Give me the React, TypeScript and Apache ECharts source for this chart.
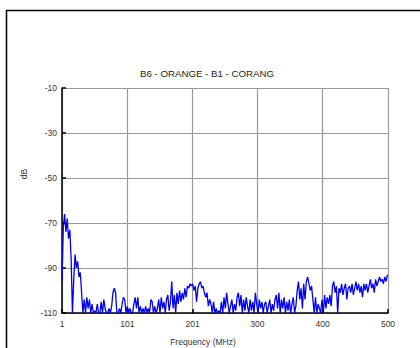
import React, { useEffect, useRef } from "react";
import * as echarts from "echarts";

const chartTitle = "B6 - ORANGE - B1 - CORANG";
const xAxisTitle = "Frequency (MHz)";
const yAxisTitle = "dB";

const xTickValues = [1, 101, 201, 300, 400, 500];
const yTickValues = [-110, -90, -70, -50, -30, -10];

const freqStart = 1;
const freqStep = 2;

const levelsDb = [
  -96, -72, -66, -74, -68, -77, -73, -86, -110, -95,
  -84, -90, -87, -94, -92, -101, -110, -104, -110, -103,
  -108, -104, -110, -106, -110, -109, -110, -106, -110, -110,
  -105, -110, -104, -108, -110, -110, -108, -110, -107, -101,
  -99, -101, -110, -110, -108, -110, -106, -103, -104, -110,
  -107, -110, -108, -110, -110, -106, -103, -108, -103, -110,
  -107, -110, -108, -110, -107, -110, -108, -110, -104, -105,
  -110, -107, -110, -108, -104, -110, -103, -108, -105, -110,
  -104, -102, -109, -105, -96, -108, -102, -110, -101, -106,
  -100, -105, -101, -104, -99, -103, -98, -99, -97, -98,
  -97, -100, -98, -105, -99, -97, -96, -99, -98, -101,
  -103, -101, -107, -104, -106, -110, -105, -110, -108, -110,
  -109, -110, -105, -110, -103, -108, -101, -106, -110, -107,
  -104, -110, -106, -109, -103, -101, -107, -102, -110, -104,
  -109, -103, -107, -110, -104, -109, -105, -110, -101, -106,
  -110, -104, -108, -105, -110, -106, -105, -110, -107, -104,
  -110, -106, -109, -104, -102, -108, -101, -110, -104, -108,
  -103, -110, -105, -109, -104, -110, -106, -103, -110, -107,
  -100, -96, -104, -99, -108, -97, -104, -96, -94, -97,
  -100, -98, -104, -110, -103, -110, -106, -108, -110, -104,
  -110, -102, -108, -103, -106, -102, -107, -98, -96, -101,
  -98, -110, -99, -101, -97, -102, -99, -97, -104, -99,
  -98, -101, -97, -102, -99, -96, -100, -97, -101, -98,
  -103, -97, -100, -97, -101, -98, -95, -99, -97, -101,
  -95, -98, -96, -94, -96, -95, -97, -94, -96, -93,
];

const seriesData = levelsDb.map((v, i) => [freqStart + i * freqStep, v]);

const font = "'Liberation Sans', Arial, sans-serif";

export default function App() {
  const ref = useRef<HTMLDivElement>(null);
  useEffect(() => {
    if (!ref.current) return;
    const chart = echarts.init(ref.current, null, { renderer: "svg" });
    chart.setOption({
      animation: false,
      backgroundColor: "#ffffff",
      title: {
        text: chartTitle,
        left: 202,
        top: 63,
        textAlign: "center",
        textStyle: { fontFamily: font, fontSize: 9.7, fontWeight: "normal", color: "#222" },
      },
      grid: { left: 62, right: 32, top: 88, bottom: 35 },
      xAxis: {
        type: "value",
        min: 1,
        max: 500,
        axisLine: { lineStyle: { color: "#000", width: 1.5 } },
        axisTick: {
          show: true,
          inside: true,
          length: 4,
          customValues: xTickValues,
          lineStyle: { color: "#000", width: 1.5 },
        },
        axisLabel: {
          customValues: xTickValues,
          fontFamily: font,
          fontSize: 8.5,
          color: "#333",
          margin: 6,
        },
        splitLine: { show: true, lineStyle: { color: "#999", width: 1.2 } },
      },
      yAxis: {
        type: "value",
        min: -110,
        max: -10,
        axisLine: { show: true, lineStyle: { color: "#000", width: 1.5 } },
        axisTick: {
          show: true,
          inside: true,
          length: 4,
          customValues: yTickValues,
          lineStyle: { color: "#000", width: 1.5 },
        },
        axisLabel: {
          customValues: yTickValues,
          fontFamily: font,
          fontSize: 8.5,
          color: "#333",
          margin: 5,
        },
        splitLine: { show: true, lineStyle: { color: "#999", width: 1.2 } },
      },
      graphic: [
        {
          type: "rect",
          shape: { x: 6.5, y: 10.5, width: 500, height: 400 },
          style: { fill: "none", stroke: "#000", lineWidth: 1.5 },
          silent: true,
        },
        {
          type: "text",
          x: 203,
          y: 342,
          style: {
            text: xAxisTitle,
            fontFamily: font,
            fontSize: 8.5,
            fill: "#333",
            textAlign: "center",
            textVerticalAlign: "middle",
          },
        },
        {
          type: "text",
          x: 24,
          y: 174,
          rotation: Math.PI / 2,
          style: {
            text: yAxisTitle,
            fontFamily: font,
            fontSize: 8.5,
            fill: "#333",
            textAlign: "center",
            textVerticalAlign: "middle",
          },
        },
      ],
      series: [
        {
          type: "line",
          data: seriesData,
          showSymbol: false,
          symbol: "none",
          lineStyle: { color: "#0000ee", width: 1.3 },
          clip: true,
        },
      ],
    });
    return () => chart.dispose();
  }, []);
  return (
    <div
      ref={ref}
      style={{ position: "fixed", left: 0, top: 0, width: 420, height: 348 }}
    />
  );
}
